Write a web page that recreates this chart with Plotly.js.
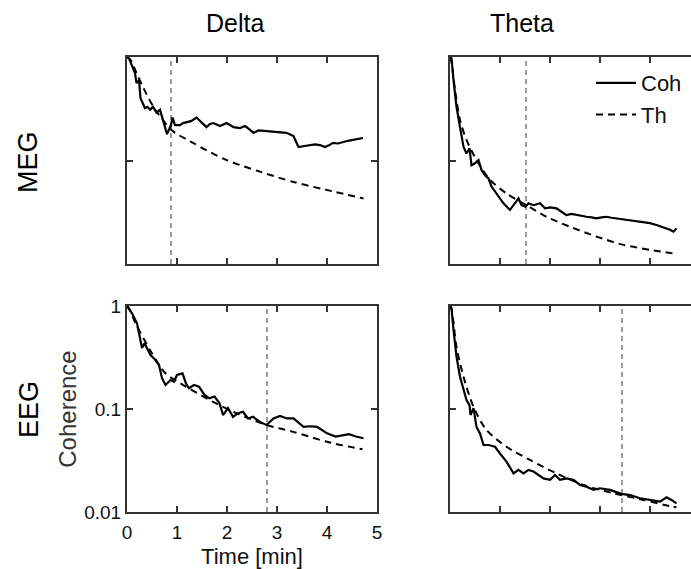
<!DOCTYPE html>
<html>
<head>
<meta charset="utf-8">
<script src="https://cdn.plot.ly/plotly-3.0.1.min.js"></script>
<style>html,body{margin:0;padding:0;background:#fff;}#chart{width:691px;height:569px;}</style>
</head>
<body>
<div id="chart"></div>
<script>
// ---- Data (time in minutes, coherence values) ----
var columnTitles = ['Delta', 'Theta'];
var rowTitles = ['MEG', 'EEG'];
var legendNames = ['Coh', 'Th'];
var xTickVals = [0, 1, 2, 3, 4, 5];
var xTickText = ['0', '1', '2', '3', '4', '5'];
var yTickVals = [0.01, 0.1, 1];
var yTickText = ['0.01', '0.1', '1'];

// Delta / MEG
var deltaMegCohT = [0, 0.04, 0.10, 0.16, 0.19, 0.24, 0.27, 0.31, 0.36, 0.41, 0.46, 0.52, 0.59, 0.66, 0.72, 0.80, 0.88, 0.91, 0.96, 1.06, 1.12, 1.19, 1.28, 1.39, 1.48, 1.59, 1.66, 1.73, 1.86, 1.93, 1.99, 2.06, 2.13, 2.26, 2.36, 2.45, 2.53, 2.63, 2.73, 2.86, 2.99, 3.09, 3.19, 3.33, 3.43, 3.55, 3.66, 3.76, 3.86, 3.96, 4.04, 4.12, 4.22, 4.32, 4.42, 4.52, 4.62, 4.72];
var deltaMegCohY = [1.0, 0.97, 0.82, 0.70, 0.56, 0.60, 0.40, 0.36, 0.32, 0.33, 0.31, 0.33, 0.29, 0.31, 0.25, 0.18, 0.22, 0.26, 0.22, 0.22, 0.23, 0.235, 0.24, 0.26, 0.235, 0.21, 0.225, 0.23, 0.215, 0.225, 0.23, 0.22, 0.21, 0.206, 0.215, 0.20, 0.185, 0.195, 0.193, 0.192, 0.19, 0.188, 0.185, 0.172, 0.135, 0.138, 0.141, 0.143, 0.141, 0.135, 0.140, 0.148, 0.146, 0.151, 0.155, 0.158, 0.162, 0.165];
var deltaMegThT = [0, 0.07, 0.19, 0.33, 0.53, 0.89, 1.33, 1.99, 2.66, 3.33, 3.99, 4.73];
var deltaMegThY = [1.0, 0.94, 0.70, 0.50, 0.33, 0.197, 0.147, 0.101, 0.078, 0.062, 0.052, 0.043];
var deltaMegMarker = [0.88];

// Theta / MEG
var thetaMegCohT = [0, 0.03, 0.07, 0.13, 0.20, 0.27, 0.33, 0.39, 0.43, 0.50, 0.57, 0.63, 0.70, 0.77, 0.83, 0.93, 1.07, 1.20, 1.30, 1.37, 1.43, 1.51, 1.57, 1.67, 1.80, 1.90, 2.00, 2.13, 2.23, 2.33, 2.43, 2.53, 2.63, 2.73, 2.83, 2.93, 3.03, 3.13, 3.23, 3.33, 3.47, 3.60, 3.73, 3.87, 4.00, 4.13, 4.23, 4.33, 4.40, 4.47, 4.53];
var thetaMegCohY = [1.0, 0.97, 0.60, 0.33, 0.21, 0.136, 0.117, 0.131, 0.090, 0.094, 0.101, 0.081, 0.072, 0.067, 0.056, 0.048, 0.0386, 0.0333, 0.0386, 0.043, 0.037, 0.0358, 0.0386, 0.037, 0.0386, 0.0345, 0.0352, 0.0345, 0.0320, 0.0297, 0.0305, 0.0297, 0.0292, 0.0286, 0.0282, 0.0276, 0.0282, 0.0286, 0.0280, 0.0276, 0.0272, 0.0266, 0.0262, 0.0256, 0.0248, 0.0238, 0.0230, 0.0221, 0.0214, 0.0205, 0.0221];
var thetaMegThT = [0, 0.03, 0.10, 0.20, 0.33, 0.53, 0.80, 1.13, 1.53, 1.93, 2.40, 2.93, 3.47, 4.00, 4.53];
var thetaMegThY = [1.0, 0.90, 0.48, 0.246, 0.158, 0.101, 0.065, 0.048, 0.037, 0.0286, 0.0229, 0.0184, 0.0153, 0.0137, 0.0125];
var thetaMegMarker = [1.52];

// Delta / EEG
var deltaEegCohT = [0, 0.10, 0.20, 0.27, 0.30, 0.35, 0.40, 0.47, 0.54, 0.64, 0.70, 0.77, 0.87, 0.94, 1.00, 1.11, 1.18, 1.24, 1.34, 1.44, 1.55, 1.65, 1.75, 1.85, 1.92, 2.02, 2.12, 2.22, 2.32, 2.42, 2.52, 2.66, 2.79, 2.93, 3.06, 3.20, 3.33, 3.43, 3.53, 3.67, 3.80, 3.90, 4.00, 4.17, 4.31, 4.44, 4.58, 4.73];
var deltaEegCohY = [1.0, 0.85, 0.68, 0.485, 0.39, 0.435, 0.39, 0.334, 0.31, 0.267, 0.199, 0.171, 0.191, 0.184, 0.214, 0.222, 0.177, 0.159, 0.171, 0.165, 0.137, 0.127, 0.132, 0.114, 0.0874, 0.102, 0.084, 0.091, 0.094, 0.081, 0.084, 0.075, 0.070, 0.081, 0.0855, 0.081, 0.081, 0.073, 0.067, 0.068, 0.067, 0.0625, 0.058, 0.054, 0.056, 0.057, 0.054, 0.052];
var deltaEegThT = [0, 0.03, 0.17, 0.50, 0.77, 1.18, 1.71, 2.19, 2.79, 3.33, 4.00, 4.71];
var deltaEegThY = [1.0, 0.97, 0.68, 0.347, 0.222, 0.165, 0.118, 0.091, 0.070, 0.060, 0.048, 0.0406];
var deltaEegMarker = [2.8];

// Theta / EEG
var thetaEegCohT = [0, 0.03, 0.07, 0.13, 0.20, 0.27, 0.33, 0.39, 0.41, 0.47, 0.53, 0.60, 0.67, 0.77, 0.90, 1.00, 1.13, 1.27, 1.37, 1.47, 1.57, 1.67, 1.77, 1.87, 2.00, 2.10, 2.20, 2.33, 2.47, 2.60, 2.73, 2.87, 3.00, 3.20, 3.43, 3.60, 3.80, 4.00, 4.20, 4.33, 4.43, 4.53];
var thetaEegCohY = [1.0, 0.95, 0.585, 0.322, 0.206, 0.153, 0.122, 0.109, 0.0875, 0.102, 0.067, 0.058, 0.0447, 0.0447, 0.043, 0.037, 0.0308, 0.0237, 0.0256, 0.0237, 0.0256, 0.0247, 0.0229, 0.0212, 0.0205, 0.0229, 0.0205, 0.0212, 0.0205, 0.0183, 0.0176, 0.0164, 0.0170, 0.0164, 0.0150, 0.0146, 0.0136, 0.0131, 0.0126, 0.0139, 0.0131, 0.0121];
var thetaEegThT = [0, 0.03, 0.13, 0.27, 0.47, 0.73, 1.13, 1.60, 2.13, 2.67, 3.27, 3.87, 4.40, 4.53];
var thetaEegThY = [1.0, 0.94, 0.40, 0.206, 0.105, 0.0625, 0.043, 0.032, 0.0237, 0.0183, 0.0152, 0.0131, 0.0114, 0.0111];
var thetaEegMarker = [3.44];

// ---- Build figure ----
var panels = [
  {xa: 'x',  ya: 'y',  cohT: deltaMegCohT, cohY: deltaMegCohY, thT: deltaMegThT, thY: deltaMegThY, mk: deltaMegMarker, legend: false},
  {xa: 'x2', ya: 'y2', cohT: thetaMegCohT, cohY: thetaMegCohY, thT: thetaMegThT, thY: thetaMegThY, mk: thetaMegMarker, legend: true},
  {xa: 'x3', ya: 'y3', cohT: deltaEegCohT, cohY: deltaEegCohY, thT: deltaEegThT, thY: deltaEegThY, mk: deltaEegMarker, legend: false},
  {xa: 'x4', ya: 'y4', cohT: thetaEegCohT, cohY: thetaEegCohY, thT: thetaEegThT, thY: thetaEegThY, mk: thetaEegMarker, legend: false}
];

var traces = [];
var shapes = [];
panels.forEach(function (p) {
  traces.push({
    x: p.cohT, y: p.cohY, xaxis: p.xa, yaxis: p.ya, type: 'scatter', mode: 'lines',
    name: legendNames[0], showlegend: p.legend, hoverinfo: 'skip',
    line: {color: '#000', width: 2.2}
  });
  traces.push({
    x: p.thT, y: p.thY, xaxis: p.xa, yaxis: p.ya, type: 'scatter', mode: 'lines',
    name: legendNames[1], showlegend: p.legend, hoverinfo: 'skip',
    line: {color: '#000', width: 2, dash: '7px,5px', shape: 'spline', smoothing: 0.8}
  });
  p.mk.forEach(function (m) {
    shapes.push({
      type: 'line', xref: p.xa, yref: p.ya + ' domain', x0: m, x1: m, y0: 0, y1: 1,
      line: {color: '#9a9a9a', width: 2, dash: '5px,4px'}, layer: 'below'
    });
  });
});

var FONT = 'Liberation Sans, Arial, Helvetica, sans-serif';
var axisCommon = {
  showgrid: false, zeroline: false, showline: true, linecolor: '#333', linewidth: 2,
  ticks: 'inside', ticklen: 6, tickwidth: 2, tickcolor: '#333',
  tickfont: {family: FONT, size: 19, color: '#111'}, fixedrange: true
};
function xax(domain, range, labels, mirror) {
  return Object.assign({}, axisCommon, {
    domain: domain, range: range, tickmode: 'array', tickvals: xTickVals, ticktext: xTickText,
    showticklabels: labels, mirror: mirror
  });
}
function yax(domain, labels, mirror) {
  return Object.assign({}, axisCommon, {
    domain: domain, type: 'log', range: [-2, 0], tickmode: 'array', tickvals: yTickVals, ticktext: yTickText,
    showticklabels: labels, mirror: mirror
  });
}

var W = 691, H = 569;
var leftDom = [127 / W, 377 / W];
var rightDom = [450 / W, 1];
var topDom = [(H - 264) / H, (H - 57) / H];
var botDom = [(H - 512) / H, (H - 306) / H];
var rightRange = [0, (W - 450) / 50];

var layout = {
  width: W, height: H,
  margin: {l: 0, r: 0, t: 0, b: 0},
  paper_bgcolor: '#fff', plot_bgcolor: '#fff',
  font: {family: FONT, color: '#000'},
  showlegend: true,
  legend: {
    x: 591 / W, xanchor: 'left', y: (H - 62) / H, yanchor: 'top',
    bgcolor: 'rgba(0,0,0,0)', borderwidth: 0,
    font: {family: FONT, size: 22, color: '#111'}, itemwidth: 40, tracegroupgap: 0
  },
  xaxis:  Object.assign(xax(leftDom, [0, 5], false, 'ticks'), {anchor: 'y'}),
  yaxis:  Object.assign(yax(topDom, false, 'ticks'), {anchor: 'x'}),
  xaxis2: Object.assign(xax(rightDom, rightRange, false, 'ticks'), {anchor: 'y2'}),
  yaxis2: Object.assign(yax(topDom, false, false), {anchor: 'x2'}),
  xaxis3: Object.assign(xax(leftDom, [0, 5], true, 'ticks'), {anchor: 'y3', ticklabelstandoff: 2,
    title: {text: 'Time [min]', font: {family: FONT, size: 22, color: '#111'}, standoff: 13}}),
  yaxis3: Object.assign(yax(botDom, true, 'ticks'), {anchor: 'x3',
    title: {text: 'Coherence', font: {family: FONT, size: 24, color: '#333'}, standoff: 1}}),
  xaxis4: Object.assign(xax(rightDom, rightRange, false, 'ticks'), {anchor: 'y4'}),
  yaxis4: Object.assign(yax(botDom, false, false), {anchor: 'x4'}),
  shapes: shapes,
  annotations: [
    {text: columnTitles[0], xref: 'paper', yref: 'paper', x: 235 / W, y: (H - 23) / H, showarrow: false,
     xanchor: 'center', yanchor: 'middle', font: {family: FONT, size: 25, color: '#000'}},
    {text: columnTitles[1], xref: 'paper', yref: 'paper', x: 522 / W, y: (H - 23) / H, showarrow: false,
     xanchor: 'center', yanchor: 'middle', font: {family: FONT, size: 25, color: '#000'}},
    {text: rowTitles[0], xref: 'paper', yref: 'paper', x: 28 / W, y: (H - 162) / H, showarrow: false, textangle: -90,
     xanchor: 'center', yanchor: 'middle', font: {family: FONT, size: 27, color: '#000'}},
    {text: rowTitles[1], xref: 'paper', yref: 'paper', x: 29 / W, y: (H - 410) / H, showarrow: false, textangle: -90,
     xanchor: 'center', yanchor: 'middle', font: {family: FONT, size: 27, color: '#000'}}
  ]
};

Plotly.newPlot('chart', traces, layout, {staticPlot: true, displayModeBar: false});
</script>
</body>
</html>
